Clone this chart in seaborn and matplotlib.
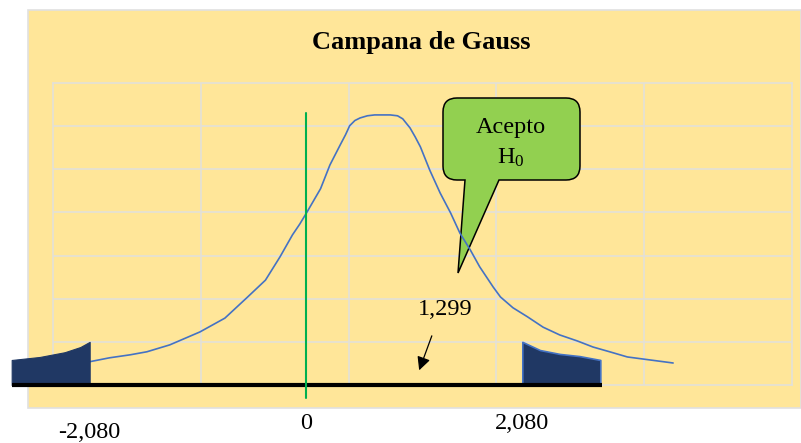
import matplotlib
matplotlib.use("Agg")
import matplotlib.pyplot as plt
import numpy as np
import pandas as pd
import seaborn as sns
from matplotlib.patches import Rectangle, PathPatch
from matplotlib.path import Path

# curve (z units, height in grid steps)
curve_z = [-2.10, -1.89, -1.69, -1.53, -1.31, -1.02, -0.78, -0.57, -0.39,
           -0.25, -0.13, -0.06, 0.01, 0.14, 0.23, 0.33, 0.38, 0.42, 0.47,
           0.52, 0.59, 0.66, 0.81, 0.88, 0.93, 1.00, 1.05, 1.10, 1.19,
           1.29, 1.39, 1.48, 1.58, 1.67, 1.80, 1.87, 1.99, 2.13, 2.28,
           2.44, 2.61, 2.76, 2.92, 3.09, 3.31, 3.53]
curve_h = [0.53, 0.63, 0.70, 0.77, 0.93, 1.23, 1.55, 2.02, 2.43,
           2.97, 3.48, 3.73, 4.01, 4.55, 5.10, 5.57, 5.80, 6.01, 6.13,
           6.19, 6.24, 6.26, 6.26, 6.24, 6.17, 5.96, 5.75, 5.52, 4.98,
           4.45, 3.99, 3.52, 3.13, 2.74, 2.27, 2.04, 1.79, 1.58, 1.34,
           1.16, 1.02, 0.88, 0.77, 0.65, 0.58, 0.51]

# rejection tails
left_tail_z = [-2.83, -2.56, -2.32, -2.17, -2.08]
left_tail_h = [0.58, 0.65, 0.76, 0.88, 1.00]
right_tail_z = [2.08, 2.25, 2.44, 2.63, 2.83]
right_tail_h = [1.00, 0.81, 0.72, 0.67, 0.58]

baseline_z = [-2.83, 2.85]
crit_ticks = [-2.08, 0.0, 2.08]
crit_labels = ["-2,080", "0", "2,080"]
t_value = 1.299
t_label = "1,299"

sns.set_style("white")
plt.rcParams['font.family'] = ['Liberation Serif', 'DejaVu Serif']
plt.rcParams['text.color'] = 'black'
plt.rcParams['mathtext.fontset'] = 'custom'
plt.rcParams['mathtext.rm'] = 'Liberation Serif'
plt.rcParams['mathtext.it'] = 'Liberation Serif:italic'

W, H = 801, 443
fig = plt.figure(figsize=(W / 100, H / 100), dpi=100)
fig.patch.set_facecolor("white")

# yellow chart area
bg = Rectangle((28 / W, 1 - 408 / H), (W - 28) / W, (408 - 10) / H,
               transform=fig.transFigure, facecolor="#ffe699",
               edgecolor="#e0e0e0", lw=1.2, zorder=-1)
fig.patches.append(bg)

ax = fig.add_axes([53 / W, 1 - 385 / H, (792 - 53) / W, (385 - 83) / H])
ax.set_facecolor("none")
xmin, xmax = (53 - 306) / 104, (792 - 306) / 104
ax.set_xlim(xmin, xmax)
ax.set_ylim(0, 7)
ax.set_xticks(np.linspace(xmin, xmax, 6)[1:-1])
ax.set_yticks(range(1, 7))
ax.tick_params(length=0, labelbottom=False, labelleft=False)
ax.grid(True, color="#e3e0d8", lw=1.2)
for s in ax.spines.values():
    s.set_visible(True)
    s.set_color("#e3e0d8")
    s.set_linewidth(1.2)

df = pd.DataFrame({"z": curve_z, "h": curve_h})
sns.lineplot(data=df, x="z", y="h", ax=ax, color="#4472c4", lw=1.2,
             zorder=4, clip_on=False)
ax.set_xlabel("")
ax.set_ylabel("")

ax.fill_between(left_tail_z, 0, left_tail_h, color="#203864",
                edgecolor="#203864", lw=0.8, zorder=5, clip_on=False)
ax.fill_between(right_tail_z, 0, right_tail_h, facecolor="#203864",
                edgecolor="#4472c4", lw=1.2, zorder=5, clip_on=False)
ax.plot(baseline_z, [0, 0], color="black", lw=3, zorder=6, clip_on=False,
        solid_capstyle="butt")
ax.plot([0, 0], [-0.30, 6.30], color="#00b050", lw=1.5, zorder=6,
        clip_on=False)

for z, lab in zip(crit_ticks, crit_labels):
    yy = -0.156 if lab.startswith("-") else -0.126
    ax.text(z, yy, lab, transform=ax.get_xaxis_transform(), ha="center",
            va="center", fontsize=17.5, clip_on=False)

# t statistic marker
ax.annotate("", xy=(t_value - 0.22, 0.28), xytext=(t_value - 0.08, 1.2),
            arrowprops=dict(arrowstyle="-|>", color="black", lw=0.9,
                            mutation_scale=20), zorder=7)
ax.text(t_value + 0.04, 1.74, t_label, ha="center", va="center",
        fontsize=17.5, zorder=7)

# callout "Acepto H0"
def px(x, y):
    return (x / 100, (H - y) / 100)

x0, x1, top, bot, r = 443, 580, 98, 180, 14
verts = [px(x0 + r, top), px(x1 - r, top), px(x1, top), px(x1, top + r),
         px(x1, bot - r), px(x1, bot), px(x1 - r, bot), px(499, bot),
         px(458, 273), px(465, bot), px(x0 + r, bot), px(x0, bot),
         px(x0, bot - r), px(x0, top + r), px(x0, top), px(x0 + r, top),
         px(x0 + r, top)]
codes = [Path.MOVETO, Path.LINETO, Path.CURVE3, Path.CURVE3, Path.LINETO,
         Path.CURVE3, Path.CURVE3, Path.LINETO, Path.LINETO, Path.LINETO,
         Path.LINETO, Path.CURVE3, Path.CURVE3, Path.LINETO, Path.CURVE3,
         Path.CURVE3, Path.CLOSEPOLY]
callout = PathPatch(Path(verts, codes), facecolor="#92d050",
                    edgecolor="black", lw=1.1, transform=fig.dpi_scale_trans,
                    zorder=3, clip_on=False)
ax.add_patch(callout)
fig.text(511 / W, 1 - 128 / H, "Acepto", ha="center", va="center",
         fontsize=17.5)
fig.text(511 / W, 1 - 158 / H, r"H$_0$", ha="center", va="center",
         fontsize=17.5)

fig.text(421 / W, 1 - 43 / H, "Campana de Gauss", ha="center", va="center",
         fontsize=19, fontweight="bold")

fig.savefig("out.png", dpi=100)
